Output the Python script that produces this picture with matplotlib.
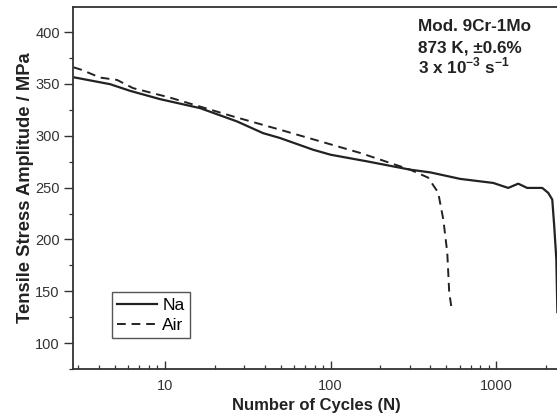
import matplotlib
matplotlib.use("Agg")
from matplotlib import pyplot as plt
from matplotlib.ticker import LogLocator, FixedLocator, NullFormatter

# Na environment
na_cycles = [2.8, 4.66, 6.15, 9.33, 16.3, 27.2, 39.1, 49.5, 78.4, 100, 166, 302, 399,
             606, 959, 1181, 1357, 1538, 1896, 2061, 2179, 2240, 2306, 2339]
na_stress = [356.4, 349.7, 343.3, 335.3, 326.6, 313.8, 302.5, 297.8, 286.5, 281.7, 275.3,
             267.3, 264.7, 258.4, 254.5, 249.7, 253.8, 249.7, 249.7, 244.9, 238.5, 212.5,
             180.8, 130.0]

# Air environment
air_cycles = [2.8, 3.14, 4.05, 5.13, 6.41, 10.7, 25.8, 49.5, 151, 302, 388, 446, 479, 506, 520, 535]
air_stress = [366.0, 363.5, 356.1, 353.8, 345.9, 336.8, 318.6, 305.8, 283.4, 267.3, 259.6,
              245.2, 219.2, 187.5, 149.0, 135.6]

x_ticks = [10, 100, 1000]
y_ticks = [100, 150, 200, 250, 300, 350, 400]


def main():
	plt.rcParams['font.family'] = ['Liberation Sans', 'DejaVu Sans']
	plt.rcParams['mathtext.fontset'] = 'custom'
	plt.rcParams['mathtext.rm'] = 'Liberation Sans:bold'
	plt.rcParams['mathtext.bf'] = 'Liberation Sans:bold'

	fig = plt.figure(figsize=(5.57, 4.19), dpi=100)
	ax = fig.add_axes([0.131, 0.119, 0.875, 0.864])

	ax.plot(na_cycles, na_stress, color="#222222", lw=1.6, ls="-", label="Na")
	ax.plot(air_cycles, air_stress, color="#222222", lw=1.4, ls=(0, (4.5, 3)), label="Air")

	ax.set_xscale("log")
	ax.set_xlim(2.78, 2438)
	ax.set_ylim(75, 424)

	ax.xaxis.set_major_locator(FixedLocator(x_ticks))
	ax.xaxis.set_minor_locator(LogLocator(base=10, subs=range(2, 10)))
	ax.xaxis.set_minor_formatter(NullFormatter())
	ax.set_xticklabels([str(t) for t in x_ticks])
	ax.yaxis.set_major_locator(FixedLocator(y_ticks))
	ax.yaxis.set_minor_locator(FixedLocator([75, 125, 175, 225, 275, 325, 375, 425]))

	ax.tick_params(axis="x", which="major", direction="in", length=6, width=1.0,
		color="#333333", labelsize=10.5, labelcolor="#333333", pad=7)
	ax.tick_params(axis="x", which="minor", direction="in", length=3, width=0.9, color="#333333")
	ax.tick_params(axis="y", which="major", direction="out", length=6.5, width=1.0,
		color="#333333", labelsize=10.5, labelcolor="#333333", pad=3)
	ax.tick_params(axis="y", which="minor", direction="out", length=3, width=0.9, color="#333333")

	for side in ["left", "bottom", "top", "right"]:
		ax.spines[side].set_color("#333333")
		ax.spines[side].set_linewidth(1.3)

	ax.set_xlabel("Number of Cycles (N)", fontsize=12, fontweight="bold", color="#222222", labelpad=4)
	ax.set_ylabel("Tensile Stress Amplitude / MPa", fontsize=13.2, fontweight="bold",
		color="#222222", labelpad=1)

	ax.text(0.708, 0.934, "Mod. 9Cr-1Mo", transform=ax.transAxes, fontsize=12.3,
		fontweight="bold", color="#222222", va="baseline")
	ax.text(0.708, 0.876, "873 K, \u00b10.6%", transform=ax.transAxes, fontsize=12.3,
		fontweight="bold", color="#222222", va="baseline")
	ax.text(0.708, 0.816, r"3 x 10$^{-3}$ s$^{-1}$", transform=ax.transAxes, fontsize=12.3,
		fontweight="bold", color="#222222", va="baseline")

	leg = ax.legend(loc="lower left", bbox_to_anchor=(0.08, 0.085), fontsize=12.5,
		handlelength=2.3, handletextpad=0.3, borderpad=0.3, labelspacing=0.3,
		fancybox=False, framealpha=1, edgecolor="#555555", borderaxespad=0)
	leg.get_frame().set_linewidth(1.0)

	fig.savefig("out.png", dpi=100)


if __name__ == "__main__":
	main()
